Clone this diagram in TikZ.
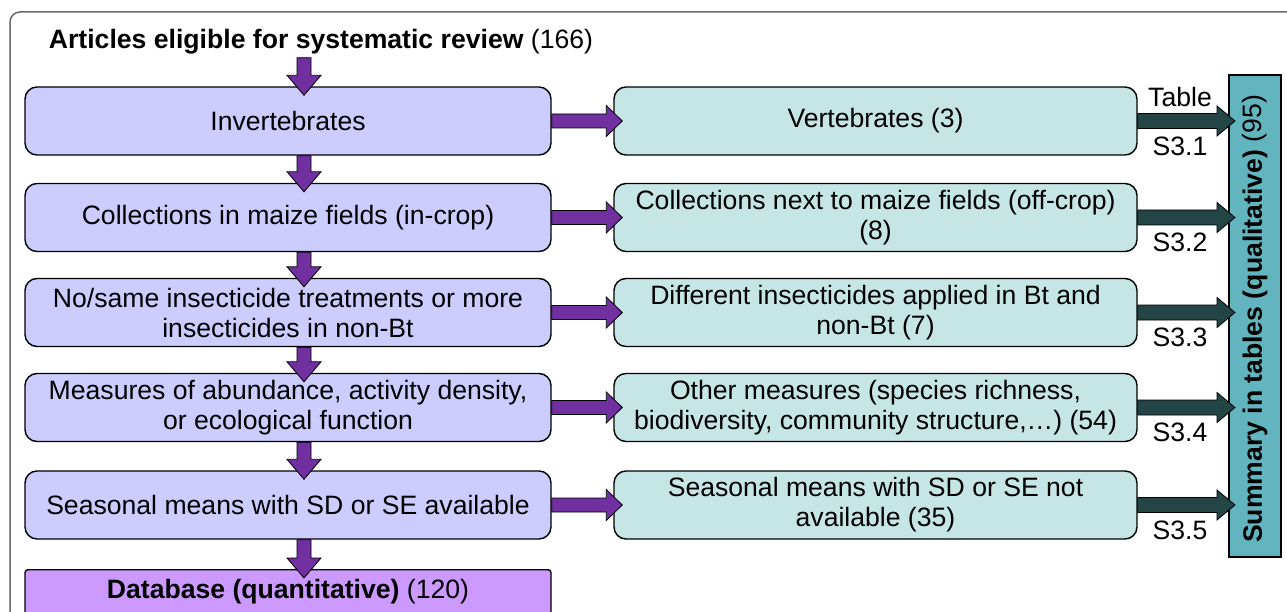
\documentclass[tikz,border=0pt]{standalone}
\usepackage{fontspec}
\setmainfont{Liberation Sans}
\usetikzlibrary{calc}
\definecolor{lboxc}{HTML}{CCCCFF}
\definecolor{rboxc}{HTML}{C6E6E6}
\definecolor{purp}{HTML}{7030A0}
\definecolor{darkarr}{HTML}{234545}
\definecolor{barc}{HTML}{62B4BE}
\definecolor{dbc}{HTML}{CC99FF}
\definecolor{framec}{HTML}{6A6A6A}
% horizontal block arrow: style, from, tip, shaft half, head half, head length
\newcommand\hblk[6]{%
  \draw[#1] let \p1=(#2), \p2=(#3) in
    (\x1,\y1+#4) -- (\x2-#6,\y1+#4) -- (\x2-#6,\y1+#5) -- (\x2,\y1)
    -- (\x2-#6,\y1-#5) -- (\x2-#6,\y1-#4) -- (\x1,\y1-#4) -- cycle;}
% vertical block arrow (downwards): style, from (y), tip (x,y)
\newcommand\vblk[3]{%
  \draw[#1] let \p1=(#2), \p2=(#3) in
    (\x2-7pt,\y1) -- (\x2-7pt,\y2+20pt) -- (\x2-17pt,\y2+20pt) -- (\x2,\y2)
    -- (\x2+17pt,\y2+20pt) -- (\x2+7pt,\y2+20pt) -- (\x2+7pt,\y1) -- cycle;}
\begin{document}
\begin{tikzpicture}[x=1pt,y=-1pt,
  every node/.style={font=\fontsize{26.6}{30}\selectfont, text=black},
  lbox/.style={draw=black, line width=1.4pt, rounded corners=12pt, fill=lboxc,
    minimum width=526pt, minimum height=68pt, align=center, inner sep=0pt},
  rbox/.style={lbox, fill=rboxc, minimum width=523pt},
  parr/.style={fill=purp, draw=black, line width=0.8pt},
  darr/.style={fill=darkarr, draw=black, line width=0.8pt},
  lbl/.style={inner sep=0pt}]
\useasboundingbox (0,0) rectangle (1287,612);
\clip (0,0) rectangle (1287,612);
% outer frame
\draw[framec, line width=1.5pt, rounded corners=10pt] (10,660) -- (10,12) -- (1320,12);

% title
\node[lbl] (title) at (321,42) {\textbf{Articles eligible for systematic review} (166)};

% left column
\node[lbox] (l1) at (288,121) {Invertebrates};
\node[lbox] (l2) at (288,217.5) {Collections in maize fields (in-crop)};
\node[lbox] (l3) at (288,312.5) {No/same insecticide treatments or more\\insecticides in non-Bt};
\node[lbox] (l4) at (288,407.5) {Measures of abundance, activity density,\\or ecological function};
\node[lbox] (l5) at (288,505) {Seasonal means with SD or SE available};
\node[lbox, rounded corners=3pt, fill=dbc, minimum height=80pt, anchor=north] (db) at (288,569) {};
\node[lbl] (dbt) at (288,592) {\textbf{Database (quantitative)} (120)};

% right column
\node[rbox] (r1) at (875.5,121) {Vertebrates (3)};
\node[rbox] (r2) at (875.5,217.5) {Collections next to maize fields (off-crop)\\(8)};
\node[rbox] (r3) at (875.5,312.5) {Different insecticides applied in Bt and\\non-Bt (7)};
\node[rbox] (r4) at (875.5,407.5) {Other measures (species richness,\\biodiversity, community structure,…) (54)};
\node[rbox] (r5) at (875.5,505) {Seasonal means with SD or SE not\\available (35)};

% summary bar
\node[draw=black, line width=2pt, fill=barc, minimum width=52pt, minimum height=482pt, inner sep=0pt] (bar) at (1255,316) {};
\node[lbl, rotate=90] (bart) at (1255,319) {\textbf{Summary in tables (qualitative)} (95)};

% vertical purple arrows
\vblk{parr}{$(title.south)+(0,3)$}{$(l1.north)+(16,9)$}
\vblk{parr}{l1.south}{$(l2.north)+(16,9)$}
\vblk{parr}{l2.south}{$(l3.north)+(16,9)$}
\vblk{parr}{l3.south}{$(l4.north)+(16,9)$}
\vblk{parr}{l4.south}{$(l5.north)+(16,9)$}
\vblk{parr}{l5.south}{$(db.north)+(16,9)$}

% horizontal purple arrows
\foreach \i in {1,...,5}{
  \hblk{parr}{l\i.east}{$(r\i.west)+(9,0)$}{7pt}{15.5pt}{16pt}
}
% dark arrows to summary bar
\foreach \i in {1,...,5}{
  \hblk{darr}{r\i.east}{$(r\i.east -| bar.west)+(7,0)$}{7.5pt}{15pt}{18pt}
}

% table labels
\node[lbl] (tab) at (1180,97) {Table};
\node[lbl] (s1) at ($(r1.east -| tab)+(0,25)$) {S3.1};
\node[lbl] (s2) at ($(r2.east -| tab)+(0,25)$) {S3.2};
\node[lbl] (s3) at ($(r3.east -| tab)+(0,25)$) {S3.3};
\node[lbl] (s4) at ($(r4.east -| tab)+(0,25)$) {S3.4};
\node[lbl] (s5) at ($(r5.east -| tab)+(0,25)$) {S3.5};
\end{tikzpicture}
\end{document}
